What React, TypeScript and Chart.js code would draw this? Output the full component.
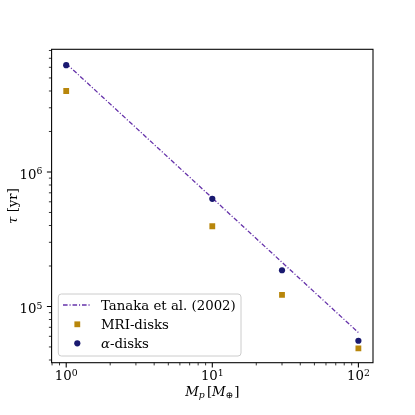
import React, { useEffect, useRef } from "react";
import { Chart, registerables } from "chart.js";

Chart.register(...registerables);

// ---- data ----
const masses = [1, 10, 30, 100];
const tanakaTau = [6.4e6, 6.4e5, 2.13e5, 6.4e4];
const mriTau = [4.0e6, 3.95e5, 1.22e5, 4.88e4];
const alphaTau = [6.22e6, 6.31e5, 1.86e5, 5.56e4];

const xMajorTicks = [1, 10, 100];
const xMinorTicks = [0.8, 0.9, 2, 3, 4, 5, 6, 7, 8, 9, 20, 30, 40, 50, 60, 70, 80, 90];
const yMajorTicks = [1e5, 1e6];
const yMinorTicks = [
  4e4, 5e4, 6e4, 7e4, 8e4, 9e4,
  2e5, 3e5, 4e5, 5e5, 6e5, 7e5, 8e5, 9e5,
  2e6, 3e6, 4e6, 5e6, 6e6, 7e6, 8e6,
];

const seriesLabels = ["Tanaka et al. (2002)", "MRI-disks", "-disks"];
const xLimits = [Math.pow(10, -0.1), Math.pow(10, 2.1)];
const yLimits = [Math.pow(10, 4.582), Math.pow(10, 6.912)];

const LINE_COLOR = "#6633aa";
const MRI_COLOR = "#b8860b";
const ALPHA_COLOR = "#191970";
const SERIF = '"DejaVu Serif", serif';
const FS = 13.3;
const SUB = 9.3;
const DASH = [4.6, 1.9, 1.1, 1.9];

type Piece = { t: string; italic?: boolean; size?: number; dy?: number; gap?: number };

function pieceFont(p: Piece) {
  return `${p.italic ? "italic " : ""}${p.size ?? FS}px ${SERIF}`;
}

function measurePieces(ctx: CanvasRenderingContext2D, pieces: Piece[]) {
  let w = 0;
  for (const p of pieces) {
    ctx.font = pieceFont(p);
    w += ctx.measureText(p.t).width + (p.gap ?? 0);
  }
  return w;
}

function drawPieces(ctx: CanvasRenderingContext2D, pieces: Piece[], x: number, y: number) {
  let cx = x;
  ctx.textBaseline = "alphabetic";
  ctx.textAlign = "left";
  for (const p of pieces) {
    ctx.font = pieceFont(p);
    ctx.fillText(p.t, cx, y + (p.dy ?? 0));
    cx += ctx.measureText(p.t).width + (p.gap ?? 0);
  }
}

function powerLabel(v: number): Piece[] {
  const e = Math.round(Math.log10(v));
  return [{ t: "10" }, { t: String(e), size: SUB, dy: -4.3 }];
}

const mplAxes = {
  id: "mplAxes",
  afterDatasetsDraw(chart: any) {
    const { ctx, chartArea: a, scales } = chart;
    const xs = scales.x;
    const ys = scales.y;
    ctx.save();
    ctx.fillStyle = "#000";
    ctx.strokeStyle = "#000";

    // ticks
    const tick = (len: number, w: number, vals: number[], axis: "x" | "y") => {
      ctx.lineWidth = w;
      ctx.beginPath();
      for (const v of vals) {
        if (axis === "x") {
          const px = xs.getPixelForValue(v);
          ctx.moveTo(px, a.bottom);
          ctx.lineTo(px, a.bottom + len);
        } else {
          const py = ys.getPixelForValue(v);
          ctx.moveTo(a.left, py);
          ctx.lineTo(a.left - len, py);
        }
      }
      ctx.stroke();
    };
    tick(4.7, 1.07, xMajorTicks, "x");
    tick(2.7, 0.8, xMinorTicks, "x");
    tick(4.7, 1.07, yMajorTicks, "y");
    tick(2.7, 0.8, yMinorTicks, "y");

    // spines
    ctx.lineWidth = 1.07;
    ctx.strokeRect(a.left, a.top, a.right - a.left, a.bottom - a.top);

    // tick labels
    for (const v of xMajorTicks) {
      const pcs = powerLabel(v);
      const w = measurePieces(ctx, pcs);
      drawPieces(ctx, pcs, xs.getPixelForValue(v) - w / 2, a.bottom + 17.3);
    }
    for (const v of yMajorTicks) {
      const pcs = powerLabel(v);
      const w = measurePieces(ctx, pcs);
      drawPieces(ctx, pcs, a.left - 9.2 - w, ys.getPixelForValue(v) + 6.8);
    }

    // x title
    const xt: Piece[] = [
      { t: "M", italic: true },
      { t: "p", italic: true, size: SUB, dy: 2.8, gap: 2.2 },
      { t: "[" },
      { t: "M", italic: true },
      { t: "⊕", size: SUB, dy: 2.8, gap: 0.8 },
      { t: "]" },
    ];
    const xw = measurePieces(ctx, xt);
    drawPieces(ctx, xt, (a.left + a.right) / 2 - xw / 2, 395.5);

    // y title
    const yt: Piece[] = [{ t: "τ", italic: true }, { t: " [yr]" }];
    const yw = measurePieces(ctx, yt);
    ctx.save();
    ctx.translate(16.5, (a.top + a.bottom) / 2);
    ctx.rotate(-Math.PI / 2);
    drawPieces(ctx, yt, -yw / 2, 0);
    ctx.restore();

    // legend
    const lx = 58.3, ly = 294, lw = 182.7, lh = 62, r = 3;
    ctx.beginPath();
    ctx.moveTo(lx + r, ly);
    ctx.arcTo(lx + lw, ly, lx + lw, ly + lh, r);
    ctx.arcTo(lx + lw, ly + lh, lx, ly + lh, r);
    ctx.arcTo(lx, ly + lh, lx, ly, r);
    ctx.arcTo(lx, ly, lx + lw, ly, r);
    ctx.closePath();
    ctx.fillStyle = "rgba(255,255,255,0.8)";
    ctx.fill();
    ctx.strokeStyle = "#cccccc";
    ctx.lineWidth = 1;
    ctx.stroke();

    const baselines = [310, 329.3, 348.3];
    // line handle
    ctx.strokeStyle = LINE_COLOR;
    ctx.lineWidth = 1.3;
    ctx.setLineDash(DASH);
    ctx.beginPath();
    ctx.moveTo(63, baselines[0] - 5);
    ctx.lineTo(90.5, baselines[0] - 5);
    ctx.stroke();
    ctx.setLineDash([]);
    // MRI marker
    ctx.fillStyle = MRI_COLOR;
    ctx.fillRect(77.3 - 2.9, baselines[1] - 5 - 2.9, 5.8, 5.8);
    // alpha marker
    ctx.fillStyle = ALPHA_COLOR;
    ctx.beginPath();
    ctx.arc(77.3, baselines[2] - 5, 3.1, 0, Math.PI * 2);
    ctx.fill();

    ctx.fillStyle = "#000";
    drawPieces(ctx, [{ t: seriesLabels[0] }], 101, baselines[0]);
    drawPieces(ctx, [{ t: seriesLabels[1] }], 101, baselines[1]);
    drawPieces(ctx, [{ t: "α", italic: true }, { t: seriesLabels[2] }], 101, baselines[2]);

    ctx.restore();
  },
};

export default function App() {
  const ref = useRef<HTMLCanvasElement | null>(null);

  useEffect(() => {
    if (!ref.current) return;
    const chart = new Chart(ref.current, {
      type: "scatter",
      data: {
        datasets: [
          {
            type: "line",
            label: seriesLabels[0],
            data: masses.map((m, i) => ({ x: m, y: tanakaTau[i] })),
            borderColor: LINE_COLOR,
            borderWidth: 1.3,
            borderDash: DASH,
            pointRadius: 0,
            fill: false,
            tension: 0,
            order: 2,
          } as any,
          {
            type: "scatter",
            label: seriesLabels[1],
            data: masses.map((m, i) => ({ x: m, y: mriTau[i] })),
            backgroundColor: MRI_COLOR,
            borderWidth: 0,
            pointStyle: "rect",
            pointRadius: 4.1,
            order: 1,
          },
          {
            type: "scatter",
            label: "α" + seriesLabels[2],
            data: masses.map((m, i) => ({ x: m, y: alphaTau[i] })),
            backgroundColor: ALPHA_COLOR,
            borderWidth: 0,
            pointStyle: "circle",
            pointRadius: 3.1,
            order: 0,
          },
        ],
      },
      options: {
        animation: false,
        responsive: false,
        devicePixelRatio: 1,
        layout: { padding: { left: 51.6, top: 49.3, right: 42, bottom: 52.3 } },
        scales: {
          x: { type: "logarithmic", min: xLimits[0], max: xLimits[1], display: false },
          y: { type: "logarithmic", min: yLimits[0], max: yLimits[1], display: false },
        },
        plugins: { legend: { display: false }, tooltip: { enabled: false } },
      },
      plugins: [mplAxes],
    });
    return () => chart.destroy();
  }, []);

  return (
    <div style={{ position: "absolute", left: 0, top: 0, width: 415, height: 415, background: "#fff" }}>
      <canvas ref={ref} width={415} height={415} style={{ display: "block" }} />
    </div>
  );
}
